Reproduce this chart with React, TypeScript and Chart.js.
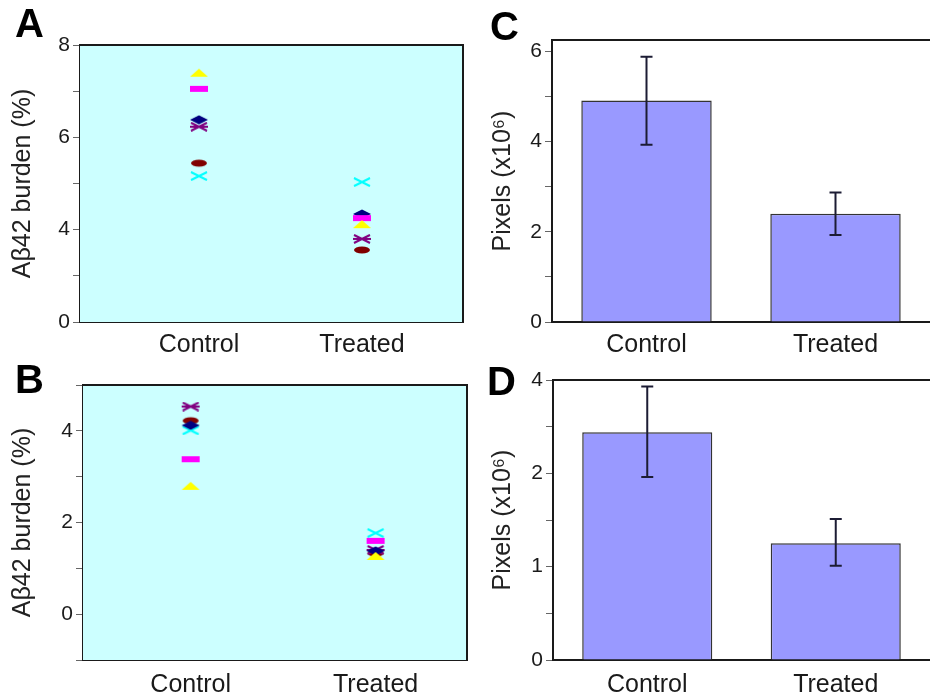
import React, { useEffect, useRef } from 'react';
import { Chart, registerables } from 'chart.js';

Chart.register(...registerables);

// ---------- data ----------
const GROUPS = ['Control', 'Treated'];
const SERIES_COLORS = ['#FFFF00', '#FF00FF', '#000080', '#800080', '#800000', '#00FFFF'];
const SERIES_SHAPES = ['triangle', 'rect', 'diamond', 'asterisk', 'ellipse', 'cross'];

const A_CONTROL = [7.40, 7.05, 6.38, 6.23, 5.44, 5.16];
const A_TREATED = [4.12, 4.25, 4.34, 3.80, 3.56, 5.03];
const B_CONTROL = [2.80, 3.38, 4.12, 4.53, 4.22, 4.01];
const B_TREATED = [1.27, 1.60, 1.38, 1.40, 1.33, 1.77];

const C_MEAN = [4.91, 2.40];
const C_HIGH = [5.88, 2.87];
const C_LOW = [3.93, 1.93];
const D_MEAN = [2.44, 1.25];
const D_HIGH = [2.93, 1.51];
const D_LOW = [1.96, 1.01];

const A_TICK_VALUES = [2, 3, 4, 5, 6, 7, 8];
const A_TICK_LABELS: Record<number, string> = { 2: '0', 4: '4', 6: '6', 8: '8' };
const B_TICK_VALUES = [-1, 0, 1, 2, 3, 4, 5];
const B_TICK_LABELS: Record<number, string> = { 0: '0', 2: '2', 4: '4' };
const C_TICK_VALUES = [0, 1, 2, 3, 4, 5, 6];
const C_TICK_LABELS: Record<number, string> = { 0: '0', 2: '2', 4: '4', 6: '6' };
const D_TICK_VALUES = [0, 0.5, 1, 1.5, 2, 2.5, 3];
const D_TICK_LABELS: Record<number, string> = { 0: '0', 1: '1', 2: '2', 3: '4' };

const TITLE_AB = 'Aβ42 burden (%)';
const TITLE_CD = 'Pixels (x10⁶)';

// ---------- styling ----------
const FONT = '"Liberation Sans", Arial, sans-serif';
Chart.defaults.font.family = FONT;
const TEXT = '#1a1a1a';
const AXIS = '#1a1a1a';
const PLOT_BG = '#CCFFFF';
const BAR_FILL = '#9999FF';

function makeMarker(shape: string, color: string): HTMLCanvasElement {
  const c = document.createElement('canvas');
  c.width = 20;
  c.height = 10;
  const g = c.getContext('2d')!;
  g.fillStyle = color;
  g.strokeStyle = color;
  g.lineWidth = 2;
  g.beginPath();
  switch (shape) {
    case 'triangle':
      g.moveTo(1, 9); g.lineTo(10, 1); g.lineTo(19, 9); g.closePath(); g.fill();
      break;
    case 'rect':
      g.fillRect(1, 2, 18, 6);
      break;
    case 'diamond':
      g.moveTo(1, 5); g.lineTo(10, 0.5); g.lineTo(19, 5); g.lineTo(10, 9.5); g.closePath(); g.fill();
      break;
    case 'asterisk':
      g.moveTo(2, 1); g.lineTo(18, 9); g.moveTo(2, 9); g.lineTo(18, 1);
      g.moveTo(1, 5); g.lineTo(19, 5); g.stroke();
      break;
    case 'ellipse':
      g.ellipse(10, 5, 8, 3.5, 0, 0, Math.PI * 2); g.fill();
      break;
    case 'cross':
      g.moveTo(2, 1); g.lineTo(18, 9); g.moveTo(2, 9); g.lineTo(18, 1); g.stroke();
      break;
  }
  return c;
}

function bgPlugin(color: string) {
  return {
    id: 'plotbg',
    beforeDatasetsDraw(chart: any) {
      const { ctx, chartArea: a } = chart;
      ctx.save();
      ctx.fillStyle = color;
      ctx.fillRect(a.left, a.top, a.right - a.left, a.bottom - a.top);
      ctx.restore();
    },
  };
}

function framePlugin(right: boolean) {
  return {
    id: 'frame',
    afterDraw(chart: any) {
      const { ctx, chartArea: a, width } = chart;
      ctx.save();
      ctx.strokeStyle = AXIS;
      ctx.lineWidth = 2;
      ctx.beginPath();
      ctx.moveTo(a.left - 1, a.top);
      ctx.lineTo(right ? a.right + 1 : width, a.top);
      if (right) {
        ctx.moveTo(a.right, a.top);
        ctx.lineTo(a.right, a.bottom + 1);
      }
      ctx.stroke();
      ctx.restore();
    },
  };
}

function letterPlugin(letter: string, x: number, y: number) {
  return {
    id: 'letter',
    afterDraw(chart: any) {
      const { ctx } = chart;
      ctx.save();
      ctx.font = `bold 40px ${FONT}`;
      ctx.fillStyle = '#000';
      ctx.textBaseline = 'alphabetic';
      ctx.textAlign = 'left';
      ctx.fillText(letter, x, y);
      ctx.restore();
    },
  };
}

function errorBarPlugin(low: number[], high: number[]) {
  return {
    id: 'errbars',
    afterDatasetsDraw(chart: any) {
      const { ctx } = chart;
      const x = chart.scales.x;
      const y = chart.scales.y;
      ctx.save();
      ctx.strokeStyle = '#1c1c34';
      ctx.lineWidth = 2;
      low.forEach((lo, i) => {
        const px = x.getPixelForValue(i);
        const yl = y.getPixelForValue(lo);
        const yh = y.getPixelForValue(high[i]);
        ctx.beginPath();
        ctx.moveTo(px, yl); ctx.lineTo(px, yh);
        ctx.moveTo(px - 6, yl); ctx.lineTo(px + 6, yl);
        ctx.moveTo(px - 6, yh); ctx.lineTo(px + 6, yh);
        ctx.stroke();
      });
      ctx.restore();
    },
  };
}

function yAxis(min: number, max: number, values: number[], labels: Record<number, string>, title: string, width: number) {
  return {
    type: 'linear',
    min,
    max,
    afterBuildTicks: (s: any) => { s.ticks = values.map((v) => ({ value: v })); },
    afterFit: (s: any) => { s.width = width; },
    ticks: {
      callback: (v: number) => (labels[v] !== undefined ? labels[v] : ''),
      font: { size: 21 },
      color: TEXT,
      padding: 3,
    },
    grid: { drawOnChartArea: false, drawTicks: true, tickLength: 7, color: '#666', lineWidth: 1 },
    border: { display: true, color: AXIS, width: 2 },
    title: { display: true, text: title, font: { size: 25 }, color: '#222', padding: { top: 8, bottom: 0 } },
  };
}

function scatterConfig(letter: string, lx: number, ly: number, control: number[], treated: number[],
  yMin: number, yMax: number, tv: number[], tl: Record<number, string>,
  xMin: number, xMax: number, padTop: number, padRight: number, yWidth: number, xPad: number) {
  return {
    type: 'scatter',
    data: {
      datasets: control.map((c, i) => ({
        data: [{ x: 1, y: c }, { x: 2, y: treated[i] }],
        pointStyle: makeMarker(SERIES_SHAPES[i], SERIES_COLORS[i]),
        pointRadius: 5,
        backgroundColor: SERIES_COLORS[i],
        borderColor: SERIES_COLORS[i],
        showLine: false,
      })),
    },
    options: {
      animation: false,
      responsive: false,
      layout: { padding: { top: padTop, right: padRight, left: 0, bottom: 0 } },
      plugins: { legend: { display: false }, tooltip: { enabled: false } },
      scales: {
        x: {
          type: 'linear',
          min: xMin,
          max: xMax,
          afterBuildTicks: (s: any) => { s.ticks = GROUPS.map((_, i) => ({ value: i + 1 })); },
          afterFit: (s: any) => { s.height = 38; },
          ticks: { callback: (v: number) => GROUPS[v - 1] ?? '', font: { size: 25 }, color: TEXT, padding: xPad, maxRotation: 0 },
          grid: { display: false },
          border: { display: true, color: AXIS, width: 2 },
        },
        y: yAxis(yMin, yMax, tv, tl, TITLE_AB, yWidth),
      },
    },
    plugins: [bgPlugin(PLOT_BG), framePlugin(true), letterPlugin(letter, lx, ly)],
  };
}

function barConfig(letter: string, lx: number, ly: number, mean: number[], low: number[], high: number[],
  yMax: number, tv: number[], tl: Record<number, string>, padTop: number, yWidth: number, xPad: number) {
  return {
    type: 'bar',
    data: {
      labels: GROUPS,
      datasets: [{
        data: mean,
        backgroundColor: BAR_FILL,
        borderColor: '#333',
        borderWidth: 1.5,
        barPercentage: 0.69,
        categoryPercentage: 1,
      }],
    },
    options: {
      animation: false,
      responsive: false,
      layout: { padding: { top: padTop, right: 0, left: 0, bottom: 0 } },
      plugins: { legend: { display: false }, tooltip: { enabled: false } },
      scales: {
        x: {
          afterFit: (s: any) => { s.height = 38; },
          ticks: { font: { size: 25 }, color: TEXT, padding: xPad, maxRotation: 0 },
          grid: { display: false },
          border: { display: true, color: AXIS, width: 2 },
        },
        y: yAxis(0, yMax, tv, tl, TITLE_CD, yWidth),
      },
    },
    plugins: [framePlugin(false), errorBarPlugin(low, high), letterPlugin(letter, lx, ly)],
  };
}

function Panel({ left, top, width, height, build }: any) {
  const ref = useRef<HTMLCanvasElement>(null);
  useEffect(() => {
    const chart = new Chart(ref.current as any, build() as any);
    return () => chart.destroy();
  }, []);
  return (
    <canvas
      ref={ref}
      width={width}
      height={height}
      style={{ position: 'absolute', left, top, width, height }}
    />
  );
}

export default function App() {
  return (
    <div style={{ position: 'absolute', left: 0, top: 0, width: 930, height: 698, overflow: 'hidden', background: '#fff' }}>
      <Panel left={0} top={0} width={475} height={360}
        build={() => scatterConfig('A', 15, 37, A_CONTROL, A_TREATED, 2, 8, A_TICK_VALUES, A_TICK_LABELS, 0.27, 2.62, 45, 12, 80, 0)} />
      <Panel left={0} top={360} width={475} height={338}
        build={() => scatterConfig('B', 15, 33, B_CONTROL, B_TREATED, -1, 5, B_TICK_VALUES, B_TICK_LABELS, 0.418, 2.494, 25, 8, 83, 2)} />
      <Panel left={480} top={0} width={450} height={360}
        build={() => barConfig('C', 10, 40, C_MEAN, C_LOW, C_HIGH, 6.25, C_TICK_VALUES, C_TICK_LABELS, 40, 72, 0)} />
      <Panel left={480} top={360} width={450} height={338}
        build={() => barConfig('D', 7, 35, D_MEAN, D_LOW, D_HIGH, 3, D_TICK_VALUES, D_TICK_LABELS, 20, 73, 2)} />
    </div>
  );
}
